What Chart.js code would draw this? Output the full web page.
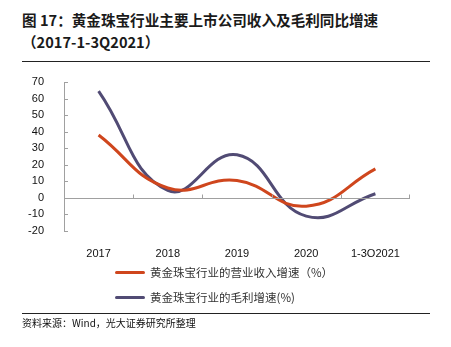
<!DOCTYPE html>
<html>
<head>
<meta charset="utf-8">
<script src="https://cdn.jsdelivr.net/npm/chart.js@4/dist/chart.umd.min.js"></script>
<style>
  html, body { margin: 0; padding: 0; background: #fff; }
  body { width: 451px; height: 347px; position: relative; overflow: hidden; font-family: "Noto Sans CJK SC", sans-serif; }
  #chart { position: absolute; left: 0; top: 0; }
  .title { position: absolute; left: 22px; top: 9px; font-size: 14.6px; font-weight: bold; line-height: 22px; color: #1a1a1a; }
  .rule { position: absolute; left: 22px; width: 408px; height: 1px; background: #222; }
  .legend { position: absolute; left: 115px; font-size: 11.5px; color: #333; line-height: 14px; }
  .legend i { display: inline-block; width: 30px; height: 3px; vertical-align: middle; margin-right: 5px; position: relative; top: -1px; border-radius: 2px; }
  .source { position: absolute; left: 22px; top: 315px; font-size: 10px; color: #111; }
</style>
</head>
<body>
<div class="title">图 17：黄金珠宝行业主要上市公司收入及毛利同比增速<br>（2017-1-3Q2021）</div>
<div class="rule" style="top:61px"></div>
<canvas id="chart" width="451" height="347"></canvas>
<div class="legend" style="top:265px"><i style="background:#cf461d"></i>黄金珠宝行业的营业收入增速（%）</div>
<div class="legend" style="top:290px"><i style="background:#514b74"></i>黄金珠宝行业的毛利增速(%)</div>
<div class="rule" style="top:313px"></div>
<div class="source">资料来源：Wind，光大证券研究所整理</div>
<script>
const years = ['2017', '2018', '2019', '2020', '1-3Q2021'];
const revenueGrowth = [38, 6, 10.5, -5, 17.5];
const grossProfitGrowth = [64.5, 4.5, 26, -11, 2.5];
const yTicks = { min: -20, max: 70, step: 10 };

// short tick marks inside the axes (y axis to the right, x ticks up from the zero line)
const innerTicks = {
  id: 'innerTicks',
  afterDatasetsDraw(chart) {
    const { ctx, scales: { x, y } } = chart;
    ctx.save();
    ctx.strokeStyle = '#a0a0a0';
    ctx.lineWidth = 1;
    ctx.beginPath();
    for (let v = yTicks.min; v <= yTicks.max; v += yTicks.step) {
      const py = Math.round(y.getPixelForValue(v)) + 0.5;
      ctx.moveTo(x.left, py);
      ctx.lineTo(x.left + 4, py);
    }
    const zero = Math.round(y.getPixelForValue(0)) + 0.5;
    ctx.moveTo(x.left, zero);
    ctx.lineTo(x.right, zero);
    for (let i = 1; i <= years.length; i++) {
      const bx = i < years.length
        ? Math.round((x.getPixelForTick(i - 1) + x.getPixelForTick(i)) / 2) + 0.5
        : Math.round(x.right) - 0.5;
      ctx.moveTo(bx, zero);
      ctx.lineTo(bx, zero - 4);
    }
    ctx.stroke();
    ctx.restore();
  }
};

new Chart(document.getElementById('chart'), {
  type: 'line',
  data: {
    labels: years,
    datasets: [
      { label: '黄金珠宝行业的营业收入增速（%）', data: revenueGrowth, borderColor: '#cf461d', borderWidth: 3, pointRadius: 0, tension: 0.45, fill: false },
      { label: '黄金珠宝行业的毛利增速(%)', data: grossProfitGrowth, borderColor: '#514b74', borderWidth: 3, pointRadius: 0, tension: 0.45, fill: false }
    ]
  },
  options: {
    responsive: false,
    animation: false,
    layout: { padding: { left: 14, right: 41, top: 82, bottom: 90 } },
    plugins: { legend: { display: false }, tooltip: { enabled: false } },
    scales: {
      x: {
        offset: true,
        grid: { display: false },
        border: { display: false },
        ticks: { color: '#111', font: { family: 'Liberation Sans', size: 11 }, padding: 8, maxRotation: 0 },
        afterFit: s => { s.height = 26; }
      },
      y: {
        min: yTicks.min,
        max: yTicks.max,
        grid: { display: false },
        border: { display: true, color: '#a0a0a0', width: 1 },
        ticks: { stepSize: yTicks.step, color: '#111', font: { family: 'Liberation Sans', size: 11 }, padding: 12 },
        afterFit: s => { s.width = 50; }
      }
    }
  },
  plugins: [innerTicks]
});
</script>
</body>
</html>
